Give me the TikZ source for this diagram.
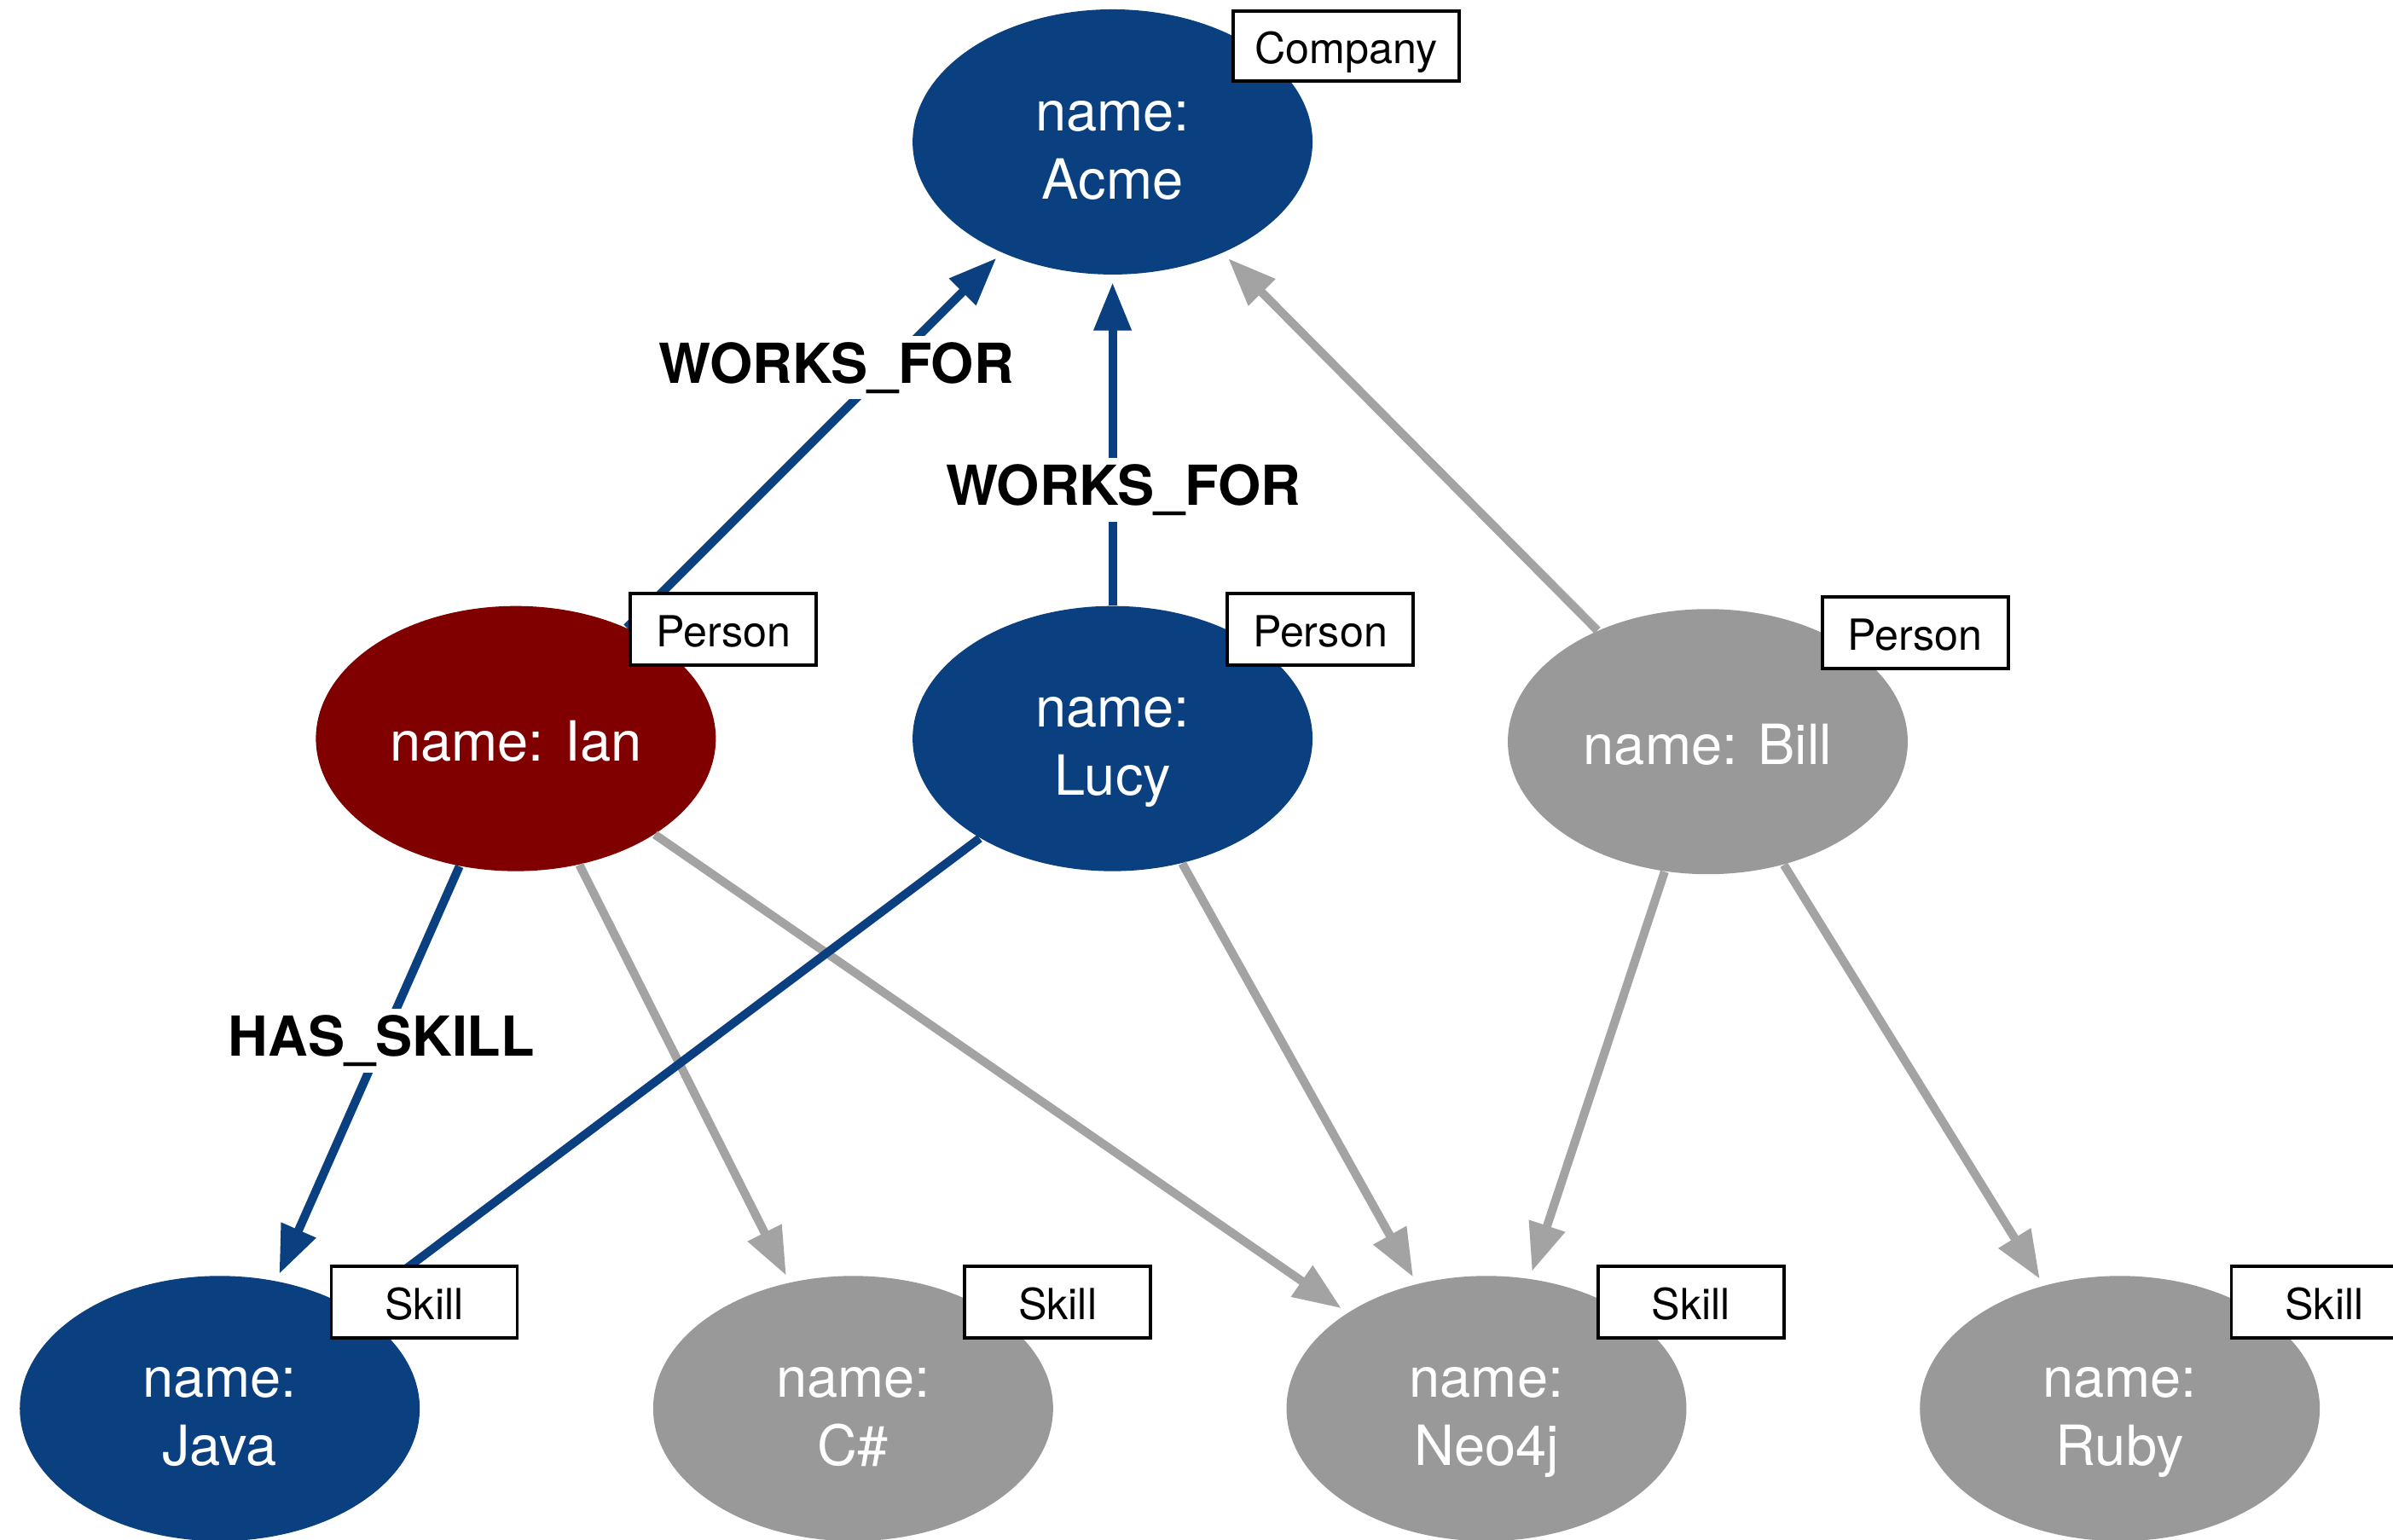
\documentclass[tikz,border=0pt]{standalone}
\usepackage{fontspec}
\setmainfont{TeX Gyre Heros}
\usetikzlibrary{shapes.geometric,arrows.meta}
\definecolor{neoblue}{RGB}{10,64,128}
\definecolor{neored}{RGB}{128,0,0}
\definecolor{neogray}{RGB}{153,153,153}
\definecolor{edgegray}{RGB}{163,163,163}
\begin{document}
\begin{tikzpicture}[x=0.017895cm,y=-0.017895cm,
  gnode/.style={ellipse, minimum width=4.69cm, minimum height=3.11cm, inner sep=0pt,
    text=white, align=center, font=\fontsize{18.5}{22.8}\selectfont,
    text height=38pt, text depth=0pt},
  oneline/.style={text height=15.2pt, text depth=0pt},
  bluenode/.style={gnode, fill=neoblue},
  rednode/.style={gnode, fill=neored},
  graynode/.style={gnode, fill=neogray},
  tagbox/.style={draw=black, line width=1.1pt, fill=white, minimum width=2.18cm,
    minimum height=0.84cm, inner sep=0pt, font=\fontsize{14.3}{17}\selectfont,
    text height=11.7pt, text depth=0pt},
  rel/.style={line width=2.85pt, -{Triangle[length=16pt,width=12pt]}, shorten >=2.5pt},
  bluerel/.style={rel, draw=neoblue},
  grayrel/.style={rel, draw=edgegray},
  rellabel/.style={fill=white, inner sep=2pt, font=\fontsize{18.4}{22}\selectfont\bfseries}
]
\useasboundingbox (0,0) rectangle (1568,1009);
\clip (0,0) rectangle (1568,1009);

% nodes
\node[bluenode] (acme) at (729,93) {name:\\Acme};
\node[rednode, oneline]  (ian)  at (338,484) {name: Ian};
\node[bluenode] (lucy) at (729,484) {name:\\Lucy};
\node[graynode, oneline] (bill) at (1119,486) {name: Bill};
\node[bluenode] (java) at (144,923) {name:\\Java};
\node[graynode] (csharp) at (559,923) {name:\\C\#};
\node[graynode] (neo) at (974,923) {name:\\Neo4j};
\node[graynode] (ruby) at (1389,923) {name:\\Ruby};

% relationships
\draw[grayrel] (ian) -- (csharp);
\draw[grayrel] (ian) -- (neo);
\draw[grayrel] (lucy) -- (neo);
\draw[grayrel] (bill) -- (neo);
\draw[grayrel] (bill) -- (ruby);
\draw[grayrel] (bill) -- (acme);
\draw[bluerel, shorten >=-1pt] (lucy) -- (java);
\draw[bluerel] (ian) -- (java);
\draw[bluerel] (ian) -- (acme);
\draw[bluerel] (lucy) -- (acme);

% relationship labels
\node[rellabel] (wf1) at (548,241) {WORKS\_FOR};
\node[rellabel] (wf2) at (736,321) {WORKS\_FOR};
\node[rellabel] (hs1) at (250,682) {HAS\_SKILL};

% label tags
\node[tagbox, minimum width=2.65cm, minimum height=0.82cm] (tcompany) at (882,30) {Company};
\node[tagbox] (tian)  at (474,412.5) {Person};
\node[tagbox] (tlucy) at (865,412.5) {Person};
\node[tagbox] (tbill) at (1255,414.5) {Person};
\node[tagbox] (tjava) at (278,853.5) {Skill};
\node[tagbox] (tcs)   at (693,853.5) {Skill};
\node[tagbox] (tneo)  at (1108,853.5) {Skill};
\node[tagbox] (truby) at (1523,853.5) {Skill};
\end{tikzpicture}
\end{document}
